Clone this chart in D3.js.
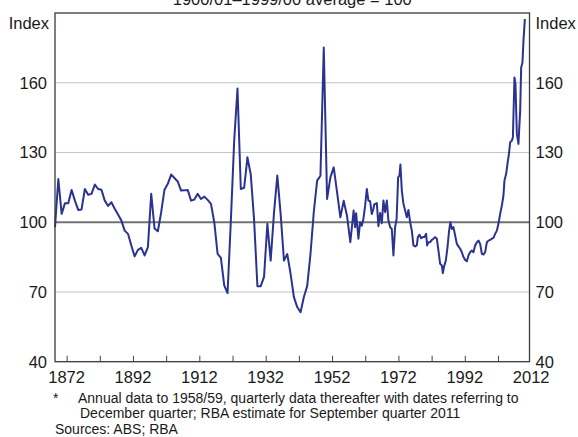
<!DOCTYPE html>
<html>
<head>
<meta charset="utf-8">
<script src="https://cdn.jsdelivr.net/npm/d3@7"></script>
<style>
  html, body { margin: 0; padding: 0; background: #fff; }
  svg { display: block; font-family: "Liberation Sans", Arial, sans-serif; }
</style>
</head>
<body>
<svg id="chart" width="578" height="437"></svg>
<script>
// ---- Data ----
// Annual data (plotted at year positions), to 1958/59
const annualStart = 1868.5;
const annualValues = [
  97.9, 118.6, 103.6, 108.2, 108.2, 113.9, 109.3, 105.3, 105.5, 114.3,
  111.8, 112.2, 116.2, 114.3, 114.0, 109.3, 107.0, 108.6, 105.8, 103.3,
  100.7, 96.4, 95.0, 90.0, 85.3, 88.1, 89.0, 85.7, 89.3, 112.2,
  97.3, 96.1, 104.3, 114.0, 116.5, 120.5, 119.0, 117.5, 113.6, 113.7,
  113.9, 109.3, 109.8, 112.2, 110.0, 111.0, 109.6, 107.9, 100.0, 86.4,
  84.7, 72.8, 69.5, 100.7, 135.0, 157.5, 114.3, 114.8, 127.9, 120.5,
  101.0, 72.5, 72.5, 76.5, 99.3, 83.5, 104.0, 120.1, 103.6, 83.5,
  86.3, 77.8, 67.8, 63.5, 61.3, 67.8, 72.5, 86.4, 104.5, 117.9,
  120.0, 175.2, 110.0, 119.3, 123.6, 112.9, 102.1, 109.2, 102.8, 91.4,
  105.0
];
// Quarterly data thereafter (dates as decimal years)
const quarterDates = [
  1958.94, 1959.25, 1959.64, 1959.94, 1960.45, 1960.96, 1961.45, 1961.96, 1962.47, 1962.95,
  1963.47, 1963.98, 1964.46, 1964.7, 1964.97, 1965.49, 1965.97, 1966.48, 1966.99, 1967.48,
  1967.99, 1968.5, 1968.98, 1969.5, 1970.0, 1970.49, 1971.0, 1971.45, 1971.91, 1972.3,
  1972.6, 1973.02, 1973.5, 1974.02, 1974.53, 1975.01, 1975.53, 1976.04, 1976.52, 1977.03,
  1977.54, 1977.85, 1978.33, 1978.84, 1979.35, 1979.83, 1980.35, 1980.65, 1981.04, 1981.56,
  1982.07, 1982.55, 1983.06, 1983.57, 1984.06, 1984.57, 1985.08, 1985.38, 1985.77, 1986.28,
  1986.79, 1987.27, 1987.66, 1988.1, 1988.58, 1989.09, 1989.6, 1990.09, 1990.6, 1991.11,
  1991.6, 1992.11, 1992.62, 1993.1, 1993.61, 1994.13, 1994.61, 1995.12, 1995.63, 1996.12,
  1996.63, 1997.14, 1997.62, 1998.14, 1998.65, 1999.13, 1999.64, 2000.16, 2000.64, 2001.15,
  2001.66, 2002.15, 2002.66, 2003.17, 2003.65, 2003.95, 2004.47, 2004.86, 2005.37, 2005.67,
  2006.19, 2006.49, 2006.97, 2007.27, 2007.69, 2008.17, 2008.69, 2008.99, 2009.38, 2009.68,
  2010.1
];
const quarterValues = [
  97.9, 103.9, 97.9, 92.9, 100.0, 98.5, 101.5, 107.0, 114.3, 109.3,
  109.0, 103.5, 105.8, 107.6, 107.9, 108.2, 98.3, 104.0, 99.6, 109.3,
  104.3, 109.3, 100.7, 97.9, 97.1, 85.7, 97.9, 101.4, 119.3, 120.1,
  124.8, 113.6, 108.0, 105.0, 102.1, 105.3, 100.0, 96.4, 90.0, 89.6,
  90.0, 93.6, 94.6, 93.1, 93.6, 93.6, 95.0, 90.0, 91.4, 91.4,
  92.4, 92.9, 93.6, 92.9, 87.8, 82.1, 81.4, 78.1, 81.0, 83.5,
  89.3, 96.4, 100.0, 97.1, 97.9, 94.3, 90.7, 89.6, 88.6, 87.1,
  85.0, 83.8, 83.2, 85.7, 87.1, 87.8, 87.1, 90.0, 91.4, 92.1,
  90.7, 86.4, 86.1, 87.1, 91.4, 92.1, 92.4, 92.9, 93.3, 95.0,
  96.4, 99.3, 103.6, 107.2, 111.5, 117.9, 120.8, 125.1, 130.1, 134.4,
  135.1, 136.5, 162.3, 159.5, 138.0, 133.7, 148.0, 166.6, 168.7, 178.0,
  187.4
];
const yTicks = [40, 70, 100, 130, 160];
const xMinorTicks = [1872, 1882, 1892, 1902, 1912, 1922, 1932, 1942, 1952, 1962, 1972, 1982, 1992, 2002];
const xLabels = [1872, 1892, 1912, 1932, 1952, 1972, 1992, 2012];
const titleText = "1900/01\u20131999/00 average = 100";
const footnotes = [
  "Annual data to 1958/59, quarterly data thereafter with dates referring to",
  "December quarter; RBA estimate for September quarter 2011"
];
const sourceText = "Sources: ABS; RBA";

// ---- Build series ----
const series = annualValues.map((v, i) => ({ t: annualStart + i, v }))
  .concat(quarterDates.map((t, i) => ({ t, v: quarterValues[i] })));

// ---- Layout ----
const L = 55, R = 529.5, T = 13, B = 361.7;
const svg = d3.select("#chart");
const x = d3.scaleLinear().domain([1868.5, 2011.5]).range([L, R]);
const y = d3.scaleLinear().domain([40, 190]).range([B, T]);
const txt = "#1a1a1a";
const fs = 16.5;

// Title (partly cut off at top)
svg.append("text").attr("x", (L + R) / 2).attr("y", 4.5)
  .attr("text-anchor", "middle").attr("font-size", fs).attr("fill", txt).text(titleText);

// Gridlines
svg.append("g").selectAll("line").data(yTicks.filter(d => d !== 40 && d !== 100)).join("line")
  .attr("x1", L).attr("x2", R).attr("y1", d => y(d)).attr("y2", d => y(d))
  .attr("stroke", "#c4c4c4").attr("stroke-width", 1);
svg.append("line").attr("x1", L).attr("x2", R).attr("y1", y(100)).attr("y2", y(100))
  .attr("stroke", "#727272").attr("stroke-width", 2);

// Bottom ticks (inward)
const xAxis = d3.axisBottom(x).tickValues(xMinorTicks).tickSize(-6).tickFormat("");
const gx = svg.append("g").attr("transform", `translate(0,${B})`).call(xAxis);
gx.select(".domain").remove();
gx.selectAll(".tick line").attr("stroke", "#444").attr("stroke-width", 1);

// Data line
svg.append("path").datum(series)
  .attr("fill", "none").attr("stroke", "#2b3391").attr("stroke-width", 2)
  .attr("stroke-linejoin", "round")
  .attr("d", d3.line().x(d => x(d.t)).y(d => y(d.v)));

// Frame
svg.append("rect").attr("x", L).attr("y", T).attr("width", R - L).attr("height", B - T)
  .attr("fill", "none").attr("stroke", "#3a3a3a").attr("stroke-width", 1.3);

// Y labels
const yl = svg.append("g").attr("font-size", fs).attr("fill", txt);
yl.selectAll("text.l").data(yTicks).join("text").attr("class", "l")
  .attr("x", L - 8).attr("y", d => y(d)).attr("dy", "0.36em")
  .attr("text-anchor", "end").text(d => d);
yl.selectAll("text.r").data(yTicks).join("text").attr("class", "r")
  .attr("x", R + 6).attr("y", d => y(d)).attr("dy", "0.36em")
  .attr("text-anchor", "start").text(d => d);
yl.append("text").attr("x", L - 6).attr("y", 29).attr("text-anchor", "end").text("Index");
yl.append("text").attr("x", R + 6).attr("y", 29).attr("text-anchor", "start").text("Index");

// X labels
svg.append("g").attr("font-size", fs).attr("fill", txt)
  .selectAll("text").data(xLabels).join("text")
  .attr("x", d => x(d)).attr("y", 383).attr("text-anchor", "middle").text(d => d);

// Footnotes
const fn = svg.append("g").attr("font-size", 14).attr("fill", txt);
fn.append("text").attr("x", 53).attr("y", 403).text("*");
fn.append("text").attr("x", 78).attr("y", 403).text(footnotes[0]);
fn.append("text").attr("x", 80).attr("y", 418).text(footnotes[1]);
fn.append("text").attr("x", 55).attr("y", 434).text(sourceText);
</script>
</body>
</html>
